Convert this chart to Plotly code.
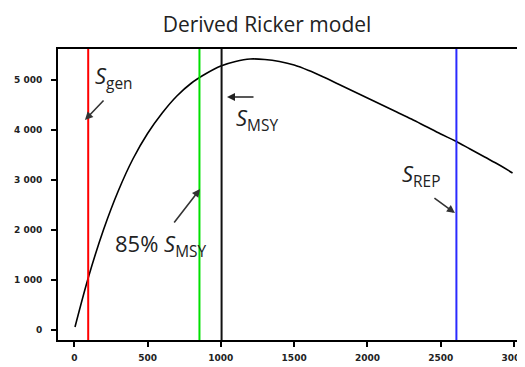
import plotly.graph_objects as go

# Ricker curve: spawners (S) vs recruits (R)
spawners = [5, 100, 200, 300, 400, 500, 600, 700, 800, 900, 1000, 1100, 1200, 1300,
            1400, 1500, 1600, 1700, 1800, 1900, 2000, 2100, 2200, 2300, 2400, 2500,
            2600, 2700, 2800, 2900, 2990]
recruits = [60, 1090, 2010, 2780, 3420, 3930, 4340, 4680, 4940, 5130, 5280, 5370, 5420,
            5410, 5370, 5300, 5190, 5060, 4920, 4780, 4640, 4500, 4360, 4220, 4070,
            3920, 3780, 3620, 3460, 3300, 3140]

# Reference points
S_gen = 95
S_msy = 1005
S_85msy = 854
S_rep = 2607

x_ticks = [0, 500, 1000, 1500, 2000, 2500, 3000]
x_labels = ["0", "500", "1000", "1500", "2000", "2500", "3000"]
y_ticks = [0, 1000, 2000, 3000, 4000, 5000]
y_labels = ["0", "1 000", "2 000", "3 000", "4 000", "5 000"]

fig = go.Figure()
fig.add_trace(go.Scatter(x=spawners, y=recruits, mode="lines", line_shape="spline",
                         line=dict(color="black", width=1.6), showlegend=False))

for xv, col in [(S_gen, "#ff0000"), (S_85msy, "#00e000"), (S_msy, "#111111"), (S_rep, "#2a2aff")]:
    fig.add_shape(type="line", x0=xv, x1=xv, y0=0, y1=1, xref="x", yref="paper",
                  line=dict(color=col, width=2))

txt = dict(family="Open Sans, Liberation Sans, sans-serif", color="#222222")
ann = [
    dict(x=271, y=5060, text="<i>S</i><sub>gen</sub>", showarrow=False, font=dict(size=22, **txt)),
    dict(x=1246, y=4220, text="<i>S</i><sub>MSY</sub>", showarrow=False, font=dict(size=22, **txt)),
    dict(x=591, y=1700, text="85% <i>S</i><sub>MSY</sub>", showarrow=False, font=dict(size=22, **txt)),
    dict(x=2365, y=3100, text="<i>S</i><sub>REP</sub>", showarrow=False, font=dict(size=22, **txt)),
    # arrows
    dict(x=73, y=4200, ax=20, ay=-21, text="", showarrow=True, arrowhead=2, arrowsize=1,
         arrowwidth=1.6, arrowcolor="#333333"),
    dict(x=1042, y=4660, ax=28, ay=0, text="", showarrow=True, arrowhead=2, arrowsize=1,
         arrowwidth=1.6, arrowcolor="#222222"),
    dict(x=858, y=2820, ax=-27, ay=35, text="", showarrow=True, arrowhead=2, arrowsize=1,
         arrowwidth=1.6, arrowcolor="#333333"),
    dict(x=2597, y=2340, ax=-22, ay=-16, text="", showarrow=True, arrowhead=2, arrowsize=1,
         arrowwidth=1.6, arrowcolor="#333333"),
]

# page body has an 8px margin, so the figure is 8px smaller and margins shifted
fig.update_layout(
    width=517, height=359,
    margin=dict(l=50, r=0, t=41, b=27, autoexpand=False),
    paper_bgcolor="white", plot_bgcolor="white",
    title=dict(text="Derived Ricker model", x=0.501, xanchor="center", y=0.955, yanchor="middle",
               font=dict(family="Open Sans, sans-serif", size=21, color="#222222")),
    annotations=ann,
    showlegend=False,
)
tickfont = dict(family="DejaVu Sans, sans-serif", size=9, color="#222222", weight="bold")
fig.update_xaxes(range=[-111, 3075], tickvals=x_ticks, ticktext=x_labels,
                 showgrid=False, zeroline=False, showline=True, linecolor="black", linewidth=2,
                 mirror=True, ticks="outside", ticklen=5, tickwidth=1.5, tickcolor="black",
                 tickfont=tickfont, automargin=False, ticklabeloverflow="allow",
                 ticklabelstandoff=3)
fig.update_yaxes(range=[-200, 5620], tickvals=y_ticks, ticktext=y_labels,
                 showgrid=False, zeroline=False, showline=True, linecolor="black", linewidth=2,
                 ticks="outside", ticklen=5, tickwidth=1.5, tickcolor="black",
                 tickfont=tickfont, automargin=False, ticklabelstandoff=7,
                 ticklabeloverflow="allow")

fig.write_html("out.html")
